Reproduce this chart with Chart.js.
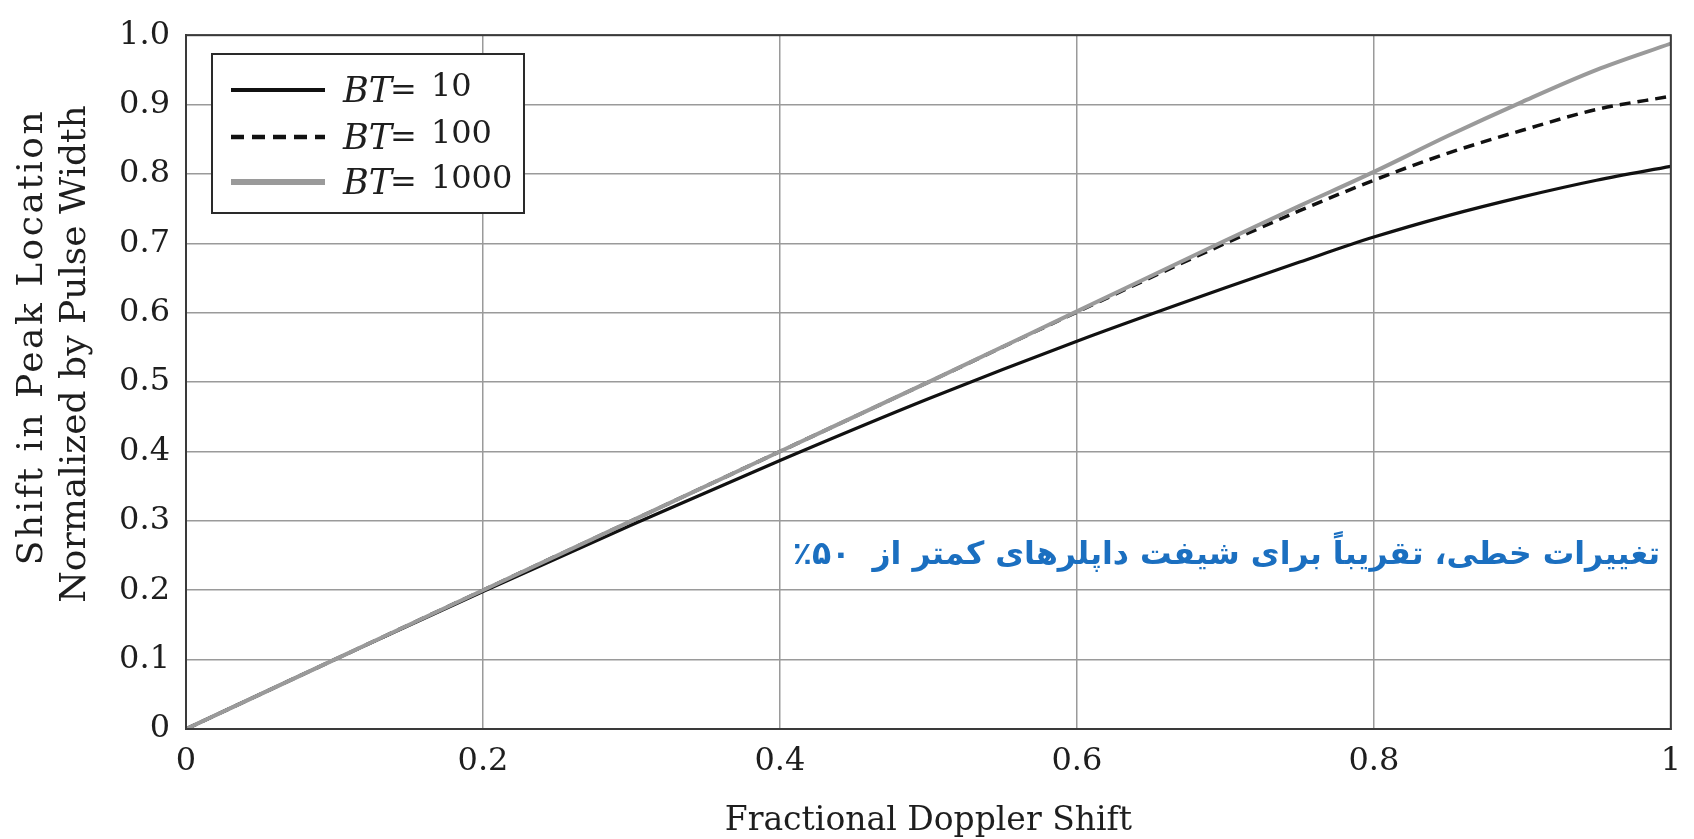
<!DOCTYPE html>
<html>
<head>
<meta charset="utf-8">
<script src="https://cdn.jsdelivr.net/npm/chart.js@4.4.1/dist/chart.umd.min.js"></script>
<style>
  html, body { margin: 0; padding: 0; background: #ffffff; }
  #wrap { width: 1694px; height: 839px; position: relative; }
</style>
</head>
<body>
<div id="wrap"><canvas id="chart"></canvas></div>
<script>
// Fractional Doppler shift (x) and normalized peak shift for each time-bandwidth product
const dopplerShift = [0, 0.1, 0.2, 0.3, 0.4, 0.5, 0.6, 0.7, 0.75, 0.8, 0.85, 0.9, 0.95, 1.0];
const bt10   = [0, 0.100, 0.198, 0.294, 0.387, 0.476, 0.559, 0.636, 0.673, 0.709, 0.740, 0.767, 0.791, 0.811];
const bt100  = [0, 0.100, 0.200, 0.300, 0.400, 0.500, 0.601, 0.700, 0.747, 0.791, 0.830, 0.863, 0.893, 0.912];
const bt1000 = [0, 0.100, 0.200, 0.300, 0.400, 0.500, 0.602, 0.704, 0.754, 0.803, 0.855, 0.904, 0.950, 0.988];

const seriesNames = ['10', '100', '1000'];

const xTickValues = [0, 0.2, 0.4, 0.6, 0.8, 1];
const xTickLabels = ['0', '0.2', '0.4', '0.6', '0.8', '1'];
const yTickValues = [0, 0.1, 0.2, 0.3, 0.4, 0.5, 0.6, 0.7, 0.8, 0.9, 1.0];
const yTickLabels = ['0', '0.1', '0.2', '0.3', '0.4', '0.5', '0.6', '0.7', '0.8', '0.9', '1.0'];

const xTitle = 'Fractional Doppler Shift';
const yTitleLines = ['Shift in Peak Location', 'Normalized by Pulse Width'];
const noteText = 'تغییرات خطی، تقریباً برای شیفت داپلرهای کمتر از  ۵۰٪';

const SERIF = "'DejaVu Serif', 'Liberation Serif', serif";
const INK = '#1e1e1e';
const GRAY = '#9a9a9a';

function toPoints(ys) {
  return dopplerShift.map((x, i) => ({ x: x, y: ys[i] }));
}

const styles = [
  { color: '#111111', width: 3.2, dash: [],      legendWidth: 4,   legendDash: [] },
  { color: '#111111', width: 3.5, dash: [11, 7], legendWidth: 4.5, legendDash: [13, 8] },
  { color: GRAY,      width: 4,   dash: [],      legendWidth: 6,   legendDash: [] }
];

const seriesData = [bt10, bt100, bt1000];

// Frame, axis titles, annotation and legend drawn on the canvas
const decorations = {
  id: 'decorations',
  afterDraw(chart) {
    const ctx = chart.ctx;
    const a = chart.chartArea;
    ctx.save();

    // plot frame
    ctx.strokeStyle = '#3a3a3a';
    ctx.lineWidth = 2;
    ctx.strokeRect(a.left, a.top, a.right - a.left, a.bottom - a.top);

    // x title
    ctx.fillStyle = INK;
    ctx.font = '33px ' + SERIF;
    ctx.textAlign = 'center';
    ctx.textBaseline = 'middle';
    ctx.fillText(xTitle, (a.left + a.right) / 2, 821);

    // y title, two rotated lines
    ctx.font = '36px ' + SERIF;
    const yLines = [
      { text: yTitleLines[0], x: 33, cy: 337, spacing: '2.5px' },
      { text: yTitleLines[1], x: 76, cy: 354, spacing: '0px' }
    ];
    yLines.forEach(l => {
      ctx.save();
      ctx.letterSpacing = l.spacing;
      ctx.translate(l.x, l.cy);
      ctx.rotate(-Math.PI / 2);
      ctx.fillText(l.text, 0, 0);
      ctx.restore();
    });

    // annotation
    ctx.fillStyle = '#1b6fc0';
    ctx.font = "bold 31.5px 'DejaVu Sans', sans-serif";
    ctx.direction = 'rtl';
    ctx.textAlign = 'right';
    ctx.textBaseline = 'middle';
    ctx.fillText(noteText, 1660, 556);
    ctx.direction = 'ltr';

    // legend box
    const box = { l: 212, t: 54, r: 524, b: 213 };
    ctx.fillStyle = '#ffffff';
    ctx.fillRect(box.l, box.t, box.r - box.l, box.b - box.t);
    ctx.strokeStyle = '#2a2a2a';
    ctx.lineWidth = 2;
    ctx.strokeRect(box.l, box.t, box.r - box.l, box.b - box.t);

    const rows = [90, 137, 182];
    chart.data.datasets.forEach((ds, i) => {
      const st = styles[i];
      const y = rows[i];
      ctx.strokeStyle = st.color;
      ctx.lineWidth = st.legendWidth;
      ctx.setLineDash(st.legendDash);
      ctx.beginPath();
      ctx.moveTo(231, y);
      ctx.lineTo(325, y);
      ctx.stroke();
      ctx.setLineDash([]);

      ctx.fillStyle = INK;
      ctx.textAlign = 'left';
      ctx.textBaseline = 'middle';
      let x = 343;
      ctx.font = 'italic 35px ' + SERIF;
      ctx.fillText('BT', x, y + 3);
      x += ctx.measureText('BT').width - 2;
      ctx.font = '32px ' + SERIF;
      ctx.fillText('=', x, y + 2);
      x += ctx.measureText('=').width + 14;
      ctx.fillText(seriesNames[i], x, y - 2);
    });

    ctx.restore();
  }
};

new Chart(document.getElementById('chart'), {
  type: 'line',
  data: {
    datasets: seriesData.map((ys, i) => ({
      label: 'BT= ' + seriesNames[i],
      data: toPoints(ys),
      borderColor: styles[i].color,
      borderWidth: styles[i].width,
      borderDash: styles[i].dash,
      pointRadius: 0,
      fill: false,
      cubicInterpolationMode: 'monotone',
      order: 3 - i
    }))
  },
  options: {
    responsive: true,
    maintainAspectRatio: false,
    animation: false,
    layout: { padding: { left: 0, top: 25, right: 16, bottom: 0 } },
    plugins: { legend: { display: false }, tooltip: { enabled: false } },
    scales: {
      x: {
        type: 'linear',
        min: 0,
        max: 1,
        afterBuildTicks(scale) { scale.ticks = xTickValues.map(v => ({ value: v })); },
        afterFit(scale) { scale.height = 110; },
        ticks: {
          autoSkip: false,
          maxRotation: 0,
          padding: 13,
          color: INK,
          font: { family: SERIF, size: 32 },
          callback: (v, i) => xTickLabels[i]
        },
        grid: { color: GRAY, lineWidth: 1.5, drawTicks: false },
        border: { display: true, color: '#3a3a3a', width: 2 }
      },
      y: {
        type: 'linear',
        min: 0,
        max: 1,
        afterBuildTicks(scale) { scale.ticks = yTickValues.map(v => ({ value: v })); },
        afterFit(scale) { scale.width = 186; },
        ticks: {
          autoSkip: false,
          padding: 16,
          color: INK,
          font: { family: SERIF, size: 32 },
          callback: (v, i) => yTickLabels[i]
        },
        grid: { color: GRAY, lineWidth: 1.5, drawTicks: false },
        border: { display: true, color: '#3a3a3a', width: 2 }
      }
    }
  },
  plugins: [decorations]
});
</script>
</body>
</html>
